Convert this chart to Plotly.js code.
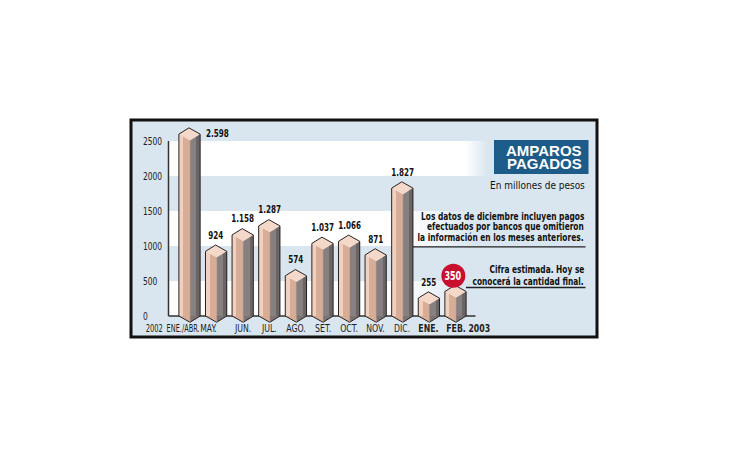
<!DOCTYPE html>
<html>
<head>
<meta charset="utf-8">
<script src="https://cdn.plot.ly/plotly-3.0.1.min.js"></script>
<style>html,body{margin:0;padding:0;background:#fff;}#chart{width:730px;height:460px;}</style>
</head>
<body>
<div id="chart"></div>
<script>
// ---- data ----
const categories = ["ENE./ABR.","MAY.","JUN.","JUL.","AGO.","SET.","OCT.","NOV.","DIC.","ENE.","FEB."];
const values = [2598, 924, 1158, 1287, 574, 1037, 1066, 871, 1827, 255, 350];
const valueLabels = ["2.598","924","1.158","1.287","574","1.037","1.066","871","1.827","255","350"];
const yTicks = [0, 500, 1000, 1500, 2000, 2500];
const yearLabels = ["2002", "2003"];
const titleLines = ["AMPAROS", "PAGADOS"];
const subtitle = "En millones de pesos";
const note1 = ["Los datos de diciembre incluyen pagos", "efectuados por bancos que omitieron", "la información en los meses anteriores."];
const note2 = ["Cifra estimada. Hoy se", "conocerá la cantidad final."];

// ---- style ----
const COND = '"DejaVu Sans Condensed", "DejaVu Sans", sans-serif';
const idx = categories.map((_, i) => i);
const D = 90;
const HW = 0.4;
const FE = 0.02;
const boldFrom = 9;
const estimatedIdx = 10;

function polys(fn) {
  const xs = [], ys = [];
  values.forEach((v, i) => {
    fn(i, v).forEach(p => { xs.push(p[0]); ys.push(p[1]); });
    xs.push(null); ys.push(null);
  });
  return {xs: xs, ys: ys};
}
function polyTrace(fn, fill) {
  const p = polys(fn);
  return {type: 'scatter', x: p.xs, y: p.ys, mode: 'lines', fill: 'toself',
    fillcolor: fill, line: {width: 0, color: fill},
    hoverinfo: 'skip', showlegend: false, connectgaps: false};
}
const outline = polys((i, v) => [[i - HW, 0], [i - HW, v], [i - FE, v + D], [i + HW, v], [i + HW, 0], [i + FE, -D], [i - HW, 0]]);
const edge = polys((i, v) => [[i + FE, -D], [i + FE, v - D]]);

const traces = [
  {type: 'bar', x: idx, y: values, base: 0, offset: -HW, width: 0.16, marker: {color: '#f0d1c0', line: {width: 0}}, hoverinfo: 'skip'},
  {type: 'bar', x: idx, y: values, base: 0, offset: -HW + 0.16, width: HW + FE - 0.16, marker: {color: '#d8ad97', line: {width: 0}}, hoverinfo: 'skip'},
  {type: 'bar', x: idx, y: values, base: 0, offset: FE, width: 0.24, marker: {color: '#878080', line: {width: 0}}, hoverinfo: 'skip'},
  {type: 'bar', x: idx, y: values, base: 0, offset: FE + 0.24, width: HW - FE - 0.24, marker: {color: '#6a6464', line: {width: 0}}, hoverinfo: 'skip'},
  polyTrace((i, v) => [[i - HW, 0], [i + FE, 0], [i + FE, -D]], '#d8ad97'),
  polyTrace((i, v) => [[i + FE, 0], [i + HW, 0], [i + FE, -D]], '#7a7372'),
  polyTrace((i, v) => [[i - HW, v], [i - FE, v + D], [i + HW, v], [i + FE, v - D]], '#f4d9ca'),
  {type: 'scatter', mode: 'lines', hoverinfo: 'skip', showlegend: false, line: {color: '#2a2222', width: 1}, x: outline.xs, y: outline.ys},
  {type: 'scatter', mode: 'lines', hoverinfo: 'skip', showlegend: false, line: {color: '#b89a8c', width: 0.6}, x: edge.xs, y: edge.ys},
  {type: 'scatter', mode: 'markers', hoverinfo: 'skip', showlegend: false,
    x: [idx[estimatedIdx] - 0.08], y: [values[estimatedIdx] + 225],
    marker: {size: 24, color: '#c8102e', line: {width: 0}}}
];

const L = 131, R = 597, T = 120, B = 337;
const px = x => (x - L) / (R - L);
const py = y => (B - y) / (B - T);
const xd = x => (x - 189.5) / 26.6;   // pixel column -> category units
const axisX = -0.79;

const shapes = [];
// white bands [low, high, fade start px, fade end px]
const bands = [[0, 500, 405, 462], [1000, 1500, 410, 472], [2000, 2500, 465, 488]];
const steps = 12;
bands.forEach(b => {
  const fs = xd(b[2]), fe = xd(b[3]);
  shapes.push({type: 'rect', layer: 'below', xref: 'x', yref: 'y', x0: axisX, x1: fs, y0: b[0], y1: b[1], fillcolor: '#ffffff', line: {width: 0}});
  for (let s = 0; s < steps; s++) {
    const x0 = fs + (fe - fs) * s / steps;
    const x1 = fs + (fe - fs) * (s + 1) / steps;
    shapes.push({type: 'rect', layer: 'below', xref: 'x', yref: 'y', x0: x0, x1: x1 + 0.005, y0: b[0], y1: b[1], fillcolor: '#ffffff', opacity: 1 - (s + 0.5) / steps, line: {width: 0}});
  }
});
shapes.push({type: 'line', layer: 'below', xref: 'x', yref: 'y', x0: axisX, x1: axisX, y0: 0, y1: yTicks[yTicks.length - 1], line: {color: '#333333', width: 1.5}});
shapes.push({type: 'line', layer: 'below', xref: 'x', yref: 'y', x0: axisX, x1: 10.75, y0: 0, y1: 0, line: {color: '#333333', width: 1.5}});
shapes.push({type: 'line', xref: 'paper', yref: 'paper', x0: px(413), x1: px(585.5), y0: py(246.8), y1: py(246.8), line: {color: '#222222', width: 1.3}});
shapes.push({type: 'line', xref: 'paper', yref: 'paper', x0: px(466), x1: px(585.5), y0: py(287.5), y1: py(287.5), line: {color: '#222222', width: 1.3}});
shapes.push({type: 'rect', xref: 'paper', yref: 'paper', x0: px(494), x1: px(588.5), y0: py(174), y1: py(140), fillcolor: '#1d5b88', line: {width: 0}});
shapes.push({type: 'rect', xref: 'paper', yref: 'paper', x0: 0, x1: 1, y0: 0, y1: 1, line: {color: '#111111', width: 3}, fillcolor: 'rgba(0,0,0,0)'});

const annotations = [], groups = [], fitW = [];
function ann(group, a, w) { a.showarrow = false; annotations.push(a); groups.push(group); fitW.push(w || 0); }

yTicks.forEach(t => ann('tick', {xref: 'x', yref: 'y', x: -1.82, y: t, text: String(t), xanchor: 'left', yanchor: 'middle', font: {family: COND, size: 9.8, color: '#222'}}));
const catShift = [-7, -8, 0, 0, 0, 0, 0, 0, 0, 0, 0];
const catFit = [33, 16.5, 0, 0, 0, 0, 0, 0, 0, 0, 0];
categories.forEach((c, i) => ann('cat', {xref: 'x', yref: 'y', x: i, y: -172, xshift: catShift[i], text: c, xanchor: 'center', yanchor: 'middle', font: {family: COND, size: 9.8, color: '#222', weight: i >= boldFrom ? 'bold' : 'normal'}}, catFit[i]));
ann('cat', {xref: 'x', yref: 'y', x: -1.35, y: -172, text: yearLabels[0], xanchor: 'center', yanchor: 'middle', font: {family: COND, size: 9.8, color: '#222'}}, 17);
ann('cat', {xref: 'x', yref: 'y', x: 10.92, y: -172, text: yearLabels[1], xanchor: 'center', yanchor: 'middle', font: {family: COND, size: 9.8, color: '#222', weight: 'bold'}});
values.forEach((v, i) => {
  if (i === estimatedIdx) {
    ann('val', {xref: 'x', yref: 'y', x: i - 0.08, y: v + 225, text: valueLabels[i], xanchor: 'center', yanchor: 'middle', font: {family: COND, size: 11.5, color: '#ffffff', weight: 'bold'}});
  } else if (i === 0) {
    ann('val', {xref: 'x', yref: 'y', x: i + 0.54, y: v + 10, text: valueLabels[i], xanchor: 'left', yanchor: 'middle', font: {family: COND, size: 10.3, color: '#111', weight: 'bold'}});
  } else {
    ann('val', {xref: 'x', yref: 'y', x: i, y: v + 235, text: valueLabels[i], xanchor: 'center', yanchor: 'middle', font: {family: COND, size: 10.3, color: '#111', weight: 'bold'}});
  }
});
const titleY = [150.5, 163.5];
titleLines.forEach((t, k) => ann('title', {xref: 'paper', yref: 'paper', x: px(583.5), y: py(titleY[k]), text: t, xanchor: 'right', yanchor: 'middle', font: {family: '"Liberation Sans", Arial, sans-serif', size: 15, color: '#ffffff', weight: 'bold'}}));
ann('sub', {xref: 'paper', yref: 'paper', x: px(587), y: py(185), text: subtitle, xanchor: 'right', yanchor: 'middle', font: {family: COND, size: 10.3, color: '#111'}});
const n1Y = [216.7, 226.9, 237.2];
note1.forEach((t, k) => ann('note', {xref: 'paper', yref: 'paper', x: px(586), y: py(n1Y[k]), text: t, xanchor: 'right', yanchor: 'middle', font: {family: COND, size: 9.8, color: '#111', weight: 'bold'}}));
const n2Y = [269.3, 281];
note2.forEach((t, k) => ann('note', {xref: 'paper', yref: 'paper', x: px(586), y: py(n2Y[k]), text: t, xanchor: 'right', yanchor: 'middle', font: {family: COND, size: 9.8, color: '#111', weight: 'bold'}}));

// reference string and its width in the source graphic, per group
const condense = {
  tick: ['2500', 19.5],
  cat: ['AGO.', 19.5],
  val: ['924', 15.5],
  sub: ['En millones de pesos', 95],
  note: ['la información en los meses anteriores.', 166]
};

const layout = {
  width: 730, height: 460,
  margin: {l: L, r: 730 - R, t: T, b: 460 - B, pad: 0},
  paper_bgcolor: '#ffffff', plot_bgcolor: '#dae6ef',
  barmode: 'overlay', bargap: 0, showlegend: false,
  xaxis: {range: [-2.2, 15.32], visible: false, fixedrange: true},
  yaxis: {range: [-300, 2800], visible: false, fixedrange: true},
  shapes: shapes, annotations: annotations
};

const gd = document.getElementById('chart');
Plotly.newPlot(gd, traces, layout, {displayModeBar: false, staticPlot: true});

function condenseTexts() {
  try {
    const nodes = {};
    const gs = gd.querySelectorAll('g.annotation');
    for (let j = 0; j < gs.length; j++) {
      nodes[+gs[j].getAttribute('data-index')] = gs[j].querySelector('text.annotation-text');
    }
    const factor = {};
    Object.keys(condense).forEach(grp => {
      for (let k = 0; k < annotations.length; k++) {
        if (groups[k] === grp && annotations[k].text === condense[grp][0] && nodes[k]) {
          const w = nodes[k].getBBox().width;
          factor[grp] = w > 0 ? Math.min(1, condense[grp][1] / w) : 1;
          break;
        }
      }
    });
    for (let i = 0; i < annotations.length; i++) {
      const t = nodes[i];
      if (!t) continue;
      const bb = t.getBBox();
      let f = factor[groups[i]];
      if (fitW[i] && bb.width > 0) f = Math.min(1, fitW[i] / bb.width);
      if (!f || f >= 0.999) continue;
      const a = annotations[i];
      const ax = a.xanchor === 'left' ? bb.x : (a.xanchor === 'right' ? bb.x + bb.width : bb.x + bb.width / 2);
      t.setAttribute('transform', 'translate(' + ax + ',0) scale(' + f + ',1) translate(' + (-ax) + ',0)');
    }
  } catch (e) { console.log(e); }
}
condenseTexts();
</script>
</body>
</html>
